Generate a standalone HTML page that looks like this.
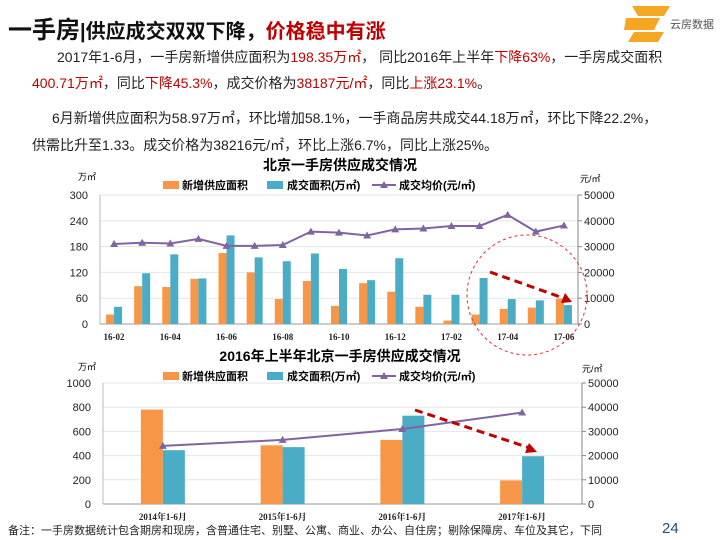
<!DOCTYPE html>
<html><head><meta charset="utf-8"><style>
body{margin:0;width:720px;height:540px;background:#fff;overflow:hidden;font-family:"Liberation Sans","Noto Sans CJK SC",sans-serif;position:relative}
.t{position:absolute;white-space:nowrap}
.r{color:#c00000}
p{margin:0}
</style></head><body>
<div class="t" style="left:8px;top:10px;font-size:24px;font-weight:bold;color:#111">一手房<span style="font-size:20px">|供应成交双双下降，</span><span class="r" style="font-size:20px">价格稳中有涨</span></div>
<div style="position:absolute;left:624px;top:4px;width:46px;height:38px">
<svg width="46" height="38"><path d="M8 2h38l-6 10H14z M2 14h34l-6 12H0z M10 28h30l-6 10H4z" fill="#f5a623"/></svg></div>
<div class="t" style="left:670px;top:16px;font-size:11px;color:#555">云房数据</div>
<div class="t" style="left:57px;top:47px;font-size:14px;color:#222">2017年1-6月，一手房新增供应面积为<span class="r">198.35万㎡</span>， 同比2016年上半年<span class="r">下降63%</span>，一手房成交面积</div>
<div class="t" style="left:32px;top:73px;font-size:14px;color:#222"><span class="r">400.71万㎡</span>，同比<span class="r">下降45.3%</span>，成交价格为<span class="r">38187元/㎡</span>，同比<span class="r">上涨23.1%</span>。</div>
<div class="t" style="left:52px;top:108px;font-size:14px;color:#222">6月新增供应面积为58.97万㎡，环比增加58.1%，一手商品房共成交44.18万㎡，环比下降22.2%，</div>
<div class="t" style="left:32px;top:135px;font-size:14px;color:#222">供需比升至1.33。成交价格为38216元/㎡，环比上涨6.7%，同比上涨25%。</div>
<svg id="c" width="720" height="540" style="position:absolute;left:0;top:0"></svg>
<div class="t" style="left:8px;top:522px;font-size:11px;color:#222">备注：一手房数据统计包含期房和现房，含普通住宅、别墅、公寓、商业、办公、自住房；剔除保障房、车位及其它，下同</div>
<div class="t" style="left:662px;top:520px;font-size:15px;color:#1f4e79">24</div>
<script>
const topCats=["16-02","16-03","16-04","16-05","16-06","16-07","16-08","16-09","16-10","16-11","16-12","17-01","17-02","17-03","17-04","17-05","17-06"];
const topSupply=[22,88,86,105,165,120,58,100,42,95,75,40,8,22,35,38,59];
const topDeal=[40,118,162,106,206,155,146,164,128,102,153,68,68,107,58,55,44];
const topPrice=[31000,31500,31200,33000,30300,30300,30600,35800,35400,34300,36700,37000,38000,38000,42300,35800,38200];
const topLeftTicks=[0,60,120,180,240,300];
const topRightTicks=[0,10000,20000,30000,40000,50000];
const botCats=["2014年1-6月","2015年1-6月","2016年1-6月","2017年1-6月"];
const botSupply=[780,485,530,195];
const botDeal=[445,470,730,395];
const botPrice=[24000,26500,31000,37800];
const botLeftTicks=[0,200,400,600,800,1000];
const botRightTicks=[0,10000,20000,30000,40000,50000];
const svg=document.getElementById('c');const NS='http://www.w3.org/2000/svg';
function mk(t,a,txt,name){const e=document.createElementNS(NS,t);for(const k in a)e.setAttribute(k,a[k]);if(txt!==undefined)e.textContent=txt;


svg.appendChild(e);return e;}
const F='Liberation Sans, Noto Sans CJK SC, sans-serif';
function chart(o){
 const {x0,x1,y0,y1,cats,sup,deal,price,lt,rt,bw,labelEvery,lmax,rmax,prefix}=o;
 const ly=v=>y0-(v/lmax)*(y0-y1), ry=v=>y0-(v/rmax)*(y0-y1);
 const cw=(x1-x0)/cats.length, cx=i=>x0+cw*(i+0.5);
 lt.forEach((v,i)=>{if(i>0)mk('line',{x1:x0,x2:x1,y1:ly(v),y2:ly(v),stroke:'#e6e6e6'},undefined,prefix+'-gridline');
  mk('text',{x:x0-12,y:ly(v)+4,'text-anchor':'end','font-size':11,'font-family':F,fill:'#222'},v,prefix+'-y-left-tick');});
 rt.forEach(v=>{mk('text',{x:x1+6,y:ry(v)+4,'font-size':11,'font-family':F,fill:'#222'},v,prefix+'-y-right-tick');
  mk('line',{x1:x1,x2:x1+4,y1:ry(v),y2:ry(v),stroke:'#888'},undefined,prefix+'-right-tickmark');});
 mk('line',{x1:x0,x2:x0,y1:y1,y2:y0,stroke:'#bbb'},undefined,prefix+'-y-left-axis');
 mk('line',{x1:x1,x2:x1,y1:y1,y2:y0,stroke:'#888'},undefined,prefix+'-y-right-axis');
 mk('line',{x1:x0,x2:x1,y1:y0,y2:y0,stroke:'#999'},undefined,prefix+'-x-axis');
 cats.forEach((c,i)=>{
  mk('rect',{x:cx(i)-bw,y:ly(sup[i]),width:bw,height:y0-ly(sup[i]),fill:'#f79646'},undefined,prefix+'-supply-bar');
  mk('rect',{x:cx(i),y:ly(deal[i]),width:bw,height:y0-ly(deal[i]),fill:'#4bacc6'},undefined,prefix+'-deal-bar');
  if(i%labelEvery===0)mk('text',{x:cx(i),y:y0+16,'text-anchor':'middle','font-size':9,'font-weight':'bold','font-family':'Liberation Serif, Noto Serif CJK SC, serif',fill:'#222'},c,prefix+'-x-label');
 });
 mk('polyline',{points:price.map((p,i)=>cx(i)+','+ry(p)).join(' '),fill:'none',stroke:'#8064a2','stroke-width':2},undefined,prefix+'-price-line');
 price.forEach((p,i)=>{const x=cx(i),y=ry(p);mk('polygon',{points:`${x-4},${y+3} ${x+4},${y+3} ${x},${y-4}`,fill:'#8064a2'},undefined,prefix+'-price-marker');});
}
function legend(y,prefix){
 mk('rect',{x:163,y:y-8,width:16,height:8,fill:'#f79646'},undefined,prefix+'-legend-supply-swatch');
 mk('text',{x:182,y:y,'font-size':11,'font-weight':'bold','font-family':F},'新增供应面积',prefix+'-legend-supply');
 mk('rect',{x:267,y:y-8,width:16,height:8,fill:'#4bacc6'},undefined,prefix+'-legend-deal-swatch');
 mk('text',{x:287,y:y,'font-size':11,'font-weight':'bold','font-family':F},'成交面积(万㎡)',prefix+'-legend-deal');
 mk('line',{x1:372,x2:396,y1:y-4,y2:y-4,stroke:'#8064a2','stroke-width':2},undefined,prefix+'-legend-price-line');
 mk('polygon',{points:`380,${y-1} 388,${y-1} 384,${y-8}`,fill:'#8064a2'},undefined,prefix+'-legend-price-marker');
 mk('text',{x:399,y:y,'font-size':11,'font-weight':'bold','font-family':F},'成交均价(元/㎡)',prefix+'-legend-price');
}
mk('text',{x:340,y:170,'text-anchor':'middle','font-size':14,'font-weight':'bold','font-family':F},'北京一手房供应成交情况','top-chart-title');
legend(189,'top');
mk('text',{x:78,y:180,'font-size':9,'font-family':F},'万㎡','top-left-unit');
mk('text',{x:580,y:182,'font-size':9,'font-family':F},'元/㎡','top-right-unit');
chart({x0:100,x1:578,y0:324,y1:195,cats:topCats,sup:topSupply,deal:topDeal,price:topPrice,lt:topLeftTicks,rt:topRightTicks,bw:8,labelEvery:2,lmax:300,rmax:50000,prefix:'top'});
mk('text',{x:340,y:361,'text-anchor':'middle','font-size':14,'font-weight':'bold','font-family':F},'2016年上半年北京一手房供应成交情况','bottom-chart-title');
legend(380,'bottom');
mk('text',{x:78,y:370,'font-size':9,'font-family':F},'万㎡','bottom-left-unit');
mk('text',{x:582,y:372,'font-size':9,'font-family':F},'元/㎡','bottom-right-unit');
chart({x0:103,x1:582,y0:504,y1:383,cats:botCats,sup:botSupply,deal:botDeal,price:botPrice,lt:botLeftTicks,rt:botRightTicks,bw:22,labelEvery:1,lmax:1000,rmax:50000,prefix:'bottom'});
mk('ellipse',{cx:527,cy:295,rx:60,ry:60,fill:'none',stroke:'#e03030','stroke-dasharray':'3,3'},undefined,'highlight-circle');
mk('line',{x1:490,y1:272,x2:566,y2:299,stroke:'#c00000','stroke-width':3,'stroke-dasharray':'8,5'},undefined,'top-trend-arrow');
mk('polygon',{points:'572,302 561,303 565,293',fill:'#c00000'},undefined,'top-arrow-head');
mk('line',{x1:415,y1:410,x2:530,y2:448,stroke:'#c00000','stroke-width':3,'stroke-dasharray':'8,5'},undefined,'bottom-trend-arrow');
mk('polygon',{points:'537,452 525,453 529,443',fill:'#c00000'},undefined,'bottom-arrow-head');
</script>
</body></html>
